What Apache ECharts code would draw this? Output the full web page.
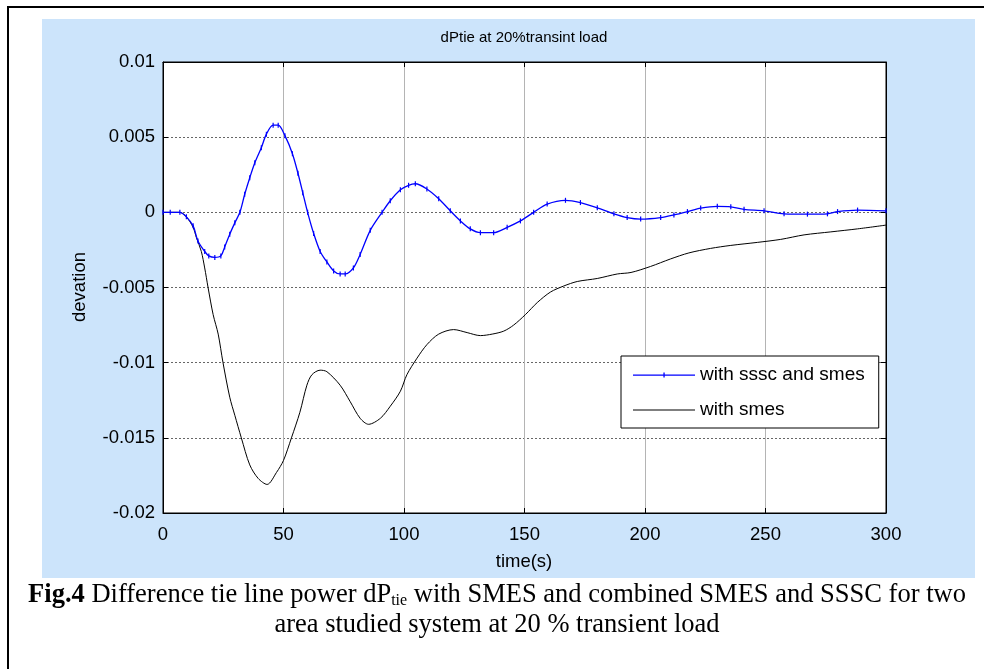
<!DOCTYPE html>
<html>
<head>
<meta charset="utf-8">
<script src="https://cdn.jsdelivr.net/npm/echarts@6/dist/echarts.min.js"></script>
<style>html,body{margin:0;padding:0;background:#fff}#c{width:984px;height:669px}</style>
</head>
<body>
<div id="c"></div>
<script>
// ---- data ----
const titleText = 'dPtie at 20%transint load';
const xName = 'time(s)';
const yName = 'devation';
const seriesNames = ['with sssc and smes', 'with smes'];
const xTicks = [0, 50, 100, 150, 200, 250, 300];
const yTicks = [-0.02, -0.015, -0.01, -0.005, 0, 0.005, 0.01];

const tBlue = [0, 3, 7, 9.7, 12.5, 14.5, 17.3, 19, 21.5, 24, 25.6, 27.7, 29.8, 31.9, 33.9, 36, 38.1, 40.8, 42.9, 45.7, 47.8, 50.6, 53.7, 56, 58, 60, 62.5, 65.2, 68, 70.8, 73.5, 75.6, 79, 81.8, 86, 90.9, 94.3, 98.5, 101.9, 104.7, 109.5, 114.4, 119.2, 123.4, 127.5, 131.7, 137.2, 142.8, 148.3, 153.8, 159.4, 167, 173.2, 180.2, 187.1, 192.6, 198.2, 206.5, 212, 217.6, 223.1, 230, 235.6, 241.1, 249.4, 257.7, 267.4, 275.7, 279.9, 288.2, 300];
const vBlue = [0, 0, 0, -0.0003, -0.0009, -0.0019, -0.0026, -0.0029, -0.003, -0.0029, -0.0023, -0.00145, -0.0007, 0, 0.0012, 0.0023, 0.0033, 0.0043, 0.0052, 0.0058, 0.0058, 0.0051, 0.0039, 0.0026, 0.0013, 0, -0.0014, -0.0026, -0.0033, -0.0039, -0.0041, -0.0041, -0.0037, -0.0028, -0.0012, 0, 0.00077, 0.0015, 0.0018, 0.0019, 0.00155, 0.0009, 0.0001, -0.00057, -0.0011, -0.00135, -0.00135, -0.001, -0.00057, 0, 0.00055, 0.0008, 0.00065, 0.0003, -0.0001, -0.00035, -0.00045, -0.00035, -0.00017, 0.00005, 0.00028, 0.0004, 0.00037, 0.0002, 0.0001, -0.0001, -0.00012, -0.0001, 0.00005, 0.00015, 0.0001];

const tBlack = [0, 3, 7, 9.7, 12.5, 13.9, 15.9, 17.3, 18.7, 20.8, 22.9, 24.9, 27.7, 29.8, 32.5, 36, 39.5, 43.2, 47.1, 50, 53.3, 56.8, 59.7, 61.8, 65.2, 68, 73.5, 77.7, 81.8, 85.3, 90.2, 94.3, 98.5, 101.2, 105.4, 109.5, 114.4, 120.6, 126.2, 131.7, 136.6, 141.4, 145.5, 150.4, 155.3, 160.8, 166.3, 171.9, 180.2, 188.5, 194.2, 202.3, 210.6, 218.2, 227.2, 235.6, 246.6, 256.3, 266, 277.1, 288.2, 300];
const vBlack = [0, 0, 0, -0.0003, -0.001, -0.0017, -0.0026, -0.0037, -0.005, -0.0068, -0.0081, -0.01, -0.0123, -0.0135, -0.015, -0.0168, -0.0177, -0.0181, -0.0173, -0.0165, -0.015, -0.0133, -0.0115, -0.0108, -0.0105, -0.0106, -0.0115, -0.0126, -0.0137, -0.0141, -0.0137, -0.0129, -0.0119, -0.0108, -0.0097, -0.0088, -0.0081, -0.0078, -0.008, -0.0082, -0.0081, -0.0079, -0.0075, -0.0068, -0.006, -0.0053, -0.0049, -0.0046, -0.0044, -0.0041, -0.004, -0.0036, -0.0031, -0.0027, -0.0024, -0.0022, -0.002, -0.0018, -0.0015, -0.0013, -0.0011, -0.00085];

const captionLine1 = '{b|Fig.4} Difference tie line power dP{sub|tie} with SMES and combined SMES and SSSC for two';
const captionLine2 = 'area studied system at 20 % transient load';

// ---- chart ----
const zip = (a, b) => a.map((x, i) => [x, b[i]]);
const sans = 'Liberation Sans, Arial, sans-serif';
const serif = 'Liberation Serif, Times New Roman, serif';
const chart = echarts.init(document.getElementById('c'), null, {renderer: 'canvas'});
const G = {left: 163, top: 62, width: 723, height: 451};

// legend icons: a 62x14 box (corner specks fix the bounding box) with a 1px line, plus a tick for the marker series
const corners = 'M0,0h0.05v0.05h-0.05z M61.95,13.95h0.05v0.05h-0.05z ';
const iconBlue = 'path://' + corners + 'M0,6.5h62v1.2h-62z M30.4,4.5h1.3v5h-1.3z';
const iconBlack = 'path://' + corners + 'M0,6.5h62v1h-62z';

const tickStyle = {inside: true, length: 5, lineStyle: {color: '#000', width: 1}};
const xCommon = {type: 'value', min: xTicks[0], max: xTicks[xTicks.length - 1], interval: xTicks[1] - xTicks[0]};
const yCommon = {type: 'value', min: yTicks[0], max: yTicks[yTicks.length - 1], interval: yTicks[1] - yTicks[0]};

chart.setOption({
  animation: false,
  backgroundColor: '#fff',
  graphic: [
    {type: 'rect', z: -100, shape: {x: 42, y: 19, width: 933, height: 559}, style: {fill: '#cce4fb'}},
    {type: 'rect', z: -90, shape: {x: 8, y: 7, width: 1100, height: 800}, style: {fill: null, stroke: '#000', lineWidth: 2}},
    {type: 'text', x: 524, y: 38, style: {text: titleText, font: '15px ' + sans, fill: '#000', textAlign: 'center', textVerticalAlign: 'middle'}},
    {type: 'text', x: 80, y: 287, rotation: Math.PI / 2, style: {text: yName, font: '18.5px ' + sans, fill: '#000', textAlign: 'center', textVerticalAlign: 'middle'}},
    {type: 'text', x: 524, y: 562, style: {text: xName, font: '18.5px ' + sans, fill: '#000', textAlign: 'center', textVerticalAlign: 'middle'}},
    {type: 'text', x: 497, y: 595, style: {text: captionLine1, font: '26.5px ' + serif, fill: '#000', textAlign: 'center', textVerticalAlign: 'middle',
      rich: {b: {fontWeight: 'bold', fontSize: 26.5, fontFamily: serif, fill: '#000'}, sub: {fontSize: 16, fontFamily: serif, fill: '#000', padding: [12, 0, 0, 0]}}}},
    {type: 'text', x: 497, y: 625, style: {text: captionLine2, font: '26.5px ' + serif, fill: '#000', textAlign: 'center', textVerticalAlign: 'middle'}}
  ],
  grid: Object.assign({show: true, backgroundColor: '#fff', borderColor: '#000', borderWidth: 1, containLabel: false}, G),
  legend: {
    orient: 'vertical', left: 621, top: 356,
    backgroundColor: '#fff', borderColor: '#000', borderWidth: 1,
    padding: [9, 14, 8, 12], itemGap: 15, itemWidth: 62, itemHeight: 14,
    textStyle: {fontSize: 19, fontFamily: sans, color: '#000', lineHeight: 20},
    data: [{name: seriesNames[0], icon: iconBlue}, {name: seriesNames[1], icon: iconBlack}]
  },
  xAxis: [
    Object.assign({}, xCommon, {
      position: 'bottom',
      axisLine: {onZero: false, lineStyle: {color: '#000', width: 1}},
      axisTick: tickStyle,
      axisLabel: {fontSize: 18.5, fontFamily: sans, color: '#000', margin: 12},
      splitLine: {show: true, lineStyle: {color: '#b4b4b4', width: 1, type: 'solid'}}
    }),
    Object.assign({}, xCommon, {
      position: 'top',
      axisLine: {onZero: false, lineStyle: {color: '#000', width: 1}},
      axisTick: tickStyle, axisLabel: {show: false}, splitLine: {show: false}
    })
  ],
  yAxis: [
    Object.assign({}, yCommon, {
      position: 'left',
      axisLine: {onZero: false, lineStyle: {color: '#000', width: 1}},
      axisTick: tickStyle,
      axisLabel: {fontSize: 18.5, fontFamily: sans, color: '#000', margin: 8,
        formatter: v => String(+v.toFixed(3))},
      splitLine: {show: true, lineStyle: {color: '#666', width: 1, type: [2, 2]}}
    }),
    Object.assign({}, yCommon, {
      position: 'right',
      axisLine: {onZero: false, lineStyle: {color: '#000', width: 1}},
      axisTick: tickStyle, axisLabel: {show: false}, splitLine: {show: false}
    })
  ],
  series: [
    {
      name: seriesNames[0], type: 'line', xAxisIndex: 0, yAxisIndex: 0,
      data: zip(tBlue, vBlue), smooth: 0.3,
      symbol: 'rect', symbolSize: [1.2, 5], showAllSymbol: true,
      itemStyle: {color: '#0000ff'},
      lineStyle: {color: '#0000ff', width: 1.3}, z: 3
    },
    {
      name: seriesNames[1], type: 'line', xAxisIndex: 0, yAxisIndex: 0,
      data: zip(tBlack, vBlack), smooth: 0.3,
      symbol: 'none', itemStyle: {color: '#000'},
      lineStyle: {color: '#000', width: 1}, z: 2
    }
  ]
});
</script>
</body>
</html>
